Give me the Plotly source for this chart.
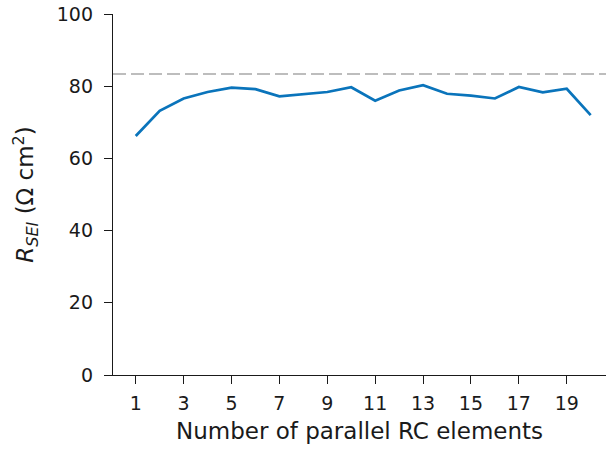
import plotly.graph_objects as go

n_elements = list(range(1, 21))
r_sei = [66.2, 73.2, 76.6, 78.4, 79.6, 79.2, 77.2, 77.7, 78.4, 79.7,
         76.0, 78.8, 80.3, 77.9, 77.4, 76.6, 79.8, 78.3, 79.3, 72.0]
reference_value = 83.4
x_ticks = [1, 3, 5, 7, 9, 11, 13, 15, 17, 19]
y_ticks = [0, 20, 40, 60, 80, 100]

fig = go.Figure()
fig.add_trace(go.Scatter(x=n_elements, y=r_sei, mode="lines",
                         line=dict(color="#0a74bb", width=2.7),
                         showlegend=False))
fig.add_hline(y=reference_value, line=dict(color="#bdbdbd", width=2, dash="13px,5px"))

font = dict(family="DejaVu Sans", size=19, color="#1a1a1a")
fig.update_layout(
    width=606, height=449,
    margin=dict(l=113, r=0, t=14, b=74),
    plot_bgcolor="white", paper_bgcolor="white",
    font=font,
)
fig.update_xaxes(range=[0.05, 20.64], tickmode="array", tickvals=x_ticks,
                 ticks="outside", ticklen=8, tickwidth=1.4, tickcolor="#1a1a1a",
                 showline=True, linecolor="#1a1a1a", linewidth=1.4,
                 showgrid=False, zeroline=False, ticklabelstandoff=3,
                 title=dict(text="Number of parallel RC elements", standoff=9))
fig.update_yaxes(range=[0, 100], tickmode="array", tickvals=y_ticks,
                 ticks="outside", ticklen=8, tickwidth=1.4, tickcolor="#1a1a1a",
                 showline=True, linecolor="#1a1a1a", linewidth=1.4,
                 showgrid=False, zeroline=False, ticklabelstandoff=7,
                 title=dict(text="<i>R</i><sub><i>SEI</i></sub> (Ω cm<sup>2</sup>)", standoff=16))
fig.write_html("out.html")
